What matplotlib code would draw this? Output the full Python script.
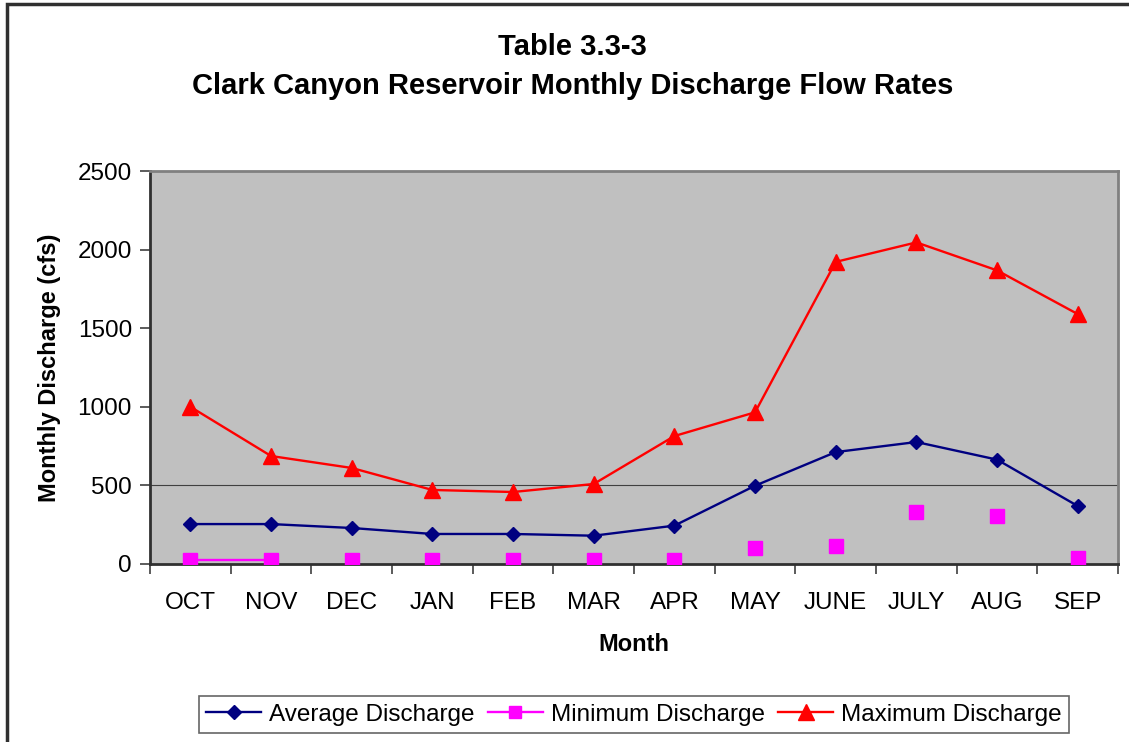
import matplotlib
matplotlib.use("Agg")
from matplotlib import pyplot as plt
from matplotlib.patches import Rectangle
import numpy as np

plt.rcParams['font.family'] = ['Liberation Sans', 'DejaVu Sans']

months = ["OCT", "NOV", "DEC", "JAN", "FEB", "MAR", "APR", "MAY", "JUNE", "JULY", "AUG", "SEP"]
avg_discharge = [254, 254, 229, 191, 191, 180, 244, 498, 712, 776, 664, 369]
min_discharge = [27, 27, 27, 27, 27, 27, 27, 104, 117, 333, 307, 40]
max_discharge = [1000, 687, 611, 471, 458, 509, 814, 965, 1922, 2046, 1868, 1590]

fig = plt.figure(figsize=(11.29, 7.42), dpi=100)
ax = fig.add_axes([0.1329, 0.2399, 0.8574, 0.5296])
ax.set_facecolor('#c0c0c0')

x = np.arange(len(months))

ax.plot(x, avg_discharge, color='#000080', lw=1.7, marker='D', ms=7.5,
        label='Average Discharge', zorder=4)
# minimum series: only the first segment drawn as a line in the original
ax.plot(x[:2], min_discharge[:2], color='#ff00ff', lw=1.7, zorder=3)
ax.plot(x, min_discharge, color='#ff00ff', lw=0, marker='s', ms=10, zorder=4)
ax.plot([], [], color='#ff00ff', lw=1.7, marker='s', ms=8, label='Minimum Discharge')
ax.plot(x, max_discharge, color='#ff0000', lw=1.7, marker='^', ms=11,
        label='Maximum Discharge', zorder=5)

ax.axhline(500, color='#404040', lw=0.8, zorder=2)

ax.set_xlim(-0.5, len(months) - 0.5)
ax.set_ylim(0, 2500)
ax.set_yticks(np.arange(0, 2501, 500))
ax.set_xticks(x)
ax.set_xticklabels(months)
ax.set_xticks(np.arange(-0.5, len(months), 1), minor=True)
ax.tick_params(axis='x', which='major', length=0, pad=20, labelsize=17.5)
ax.tick_params(axis='x', which='minor', length=7, width=1.2, color='#404040', direction='out')
ax.tick_params(axis='y', length=7, width=1.2, color='#404040', labelsize=17.5, pad=6)

for side in ['top', 'right']:
    ax.spines[side].set_color('#808080')
    ax.spines[side].set_linewidth(2)
for side in ['left', 'bottom']:
    ax.spines[side].set_color('#303030')
    ax.spines[side].set_linewidth(2)

ax.set_xlabel('Month', fontsize=17, fontweight='bold', labelpad=14)
ax.set_ylabel('Monthly Discharge (cfs)', fontsize=17, fontweight='bold', labelpad=12)

fig.text(0.507, 0.937, 'Table 3.3-3', ha='center', va='center',
         fontsize=21, fontweight='bold')
fig.text(0.507, 0.884, 'Clark Canyon Reservoir Monthly Discharge Flow Rates', ha='center',
         va='center', fontsize=21, fontweight='bold')

leg = fig.legend(loc='center', bbox_to_anchor=(0.5616, 0.037), ncol=3, fontsize=17.5,
                 frameon=True, fancybox=False, edgecolor='#404040', handlelength=2.26,
                 columnspacing=0.55, handletextpad=0.33, borderpad=0.3, borderaxespad=0)
leg.get_frame().set_linewidth(1.2)

# outer chart border
fig.patches.append(Rectangle((7 / 1129, -0.05), 1.1, 1.05 - 4 / 742, transform=fig.transFigure,
                             fill=False, edgecolor='#303030', lw=2.5))

fig.savefig('out.png', dpi=100)
